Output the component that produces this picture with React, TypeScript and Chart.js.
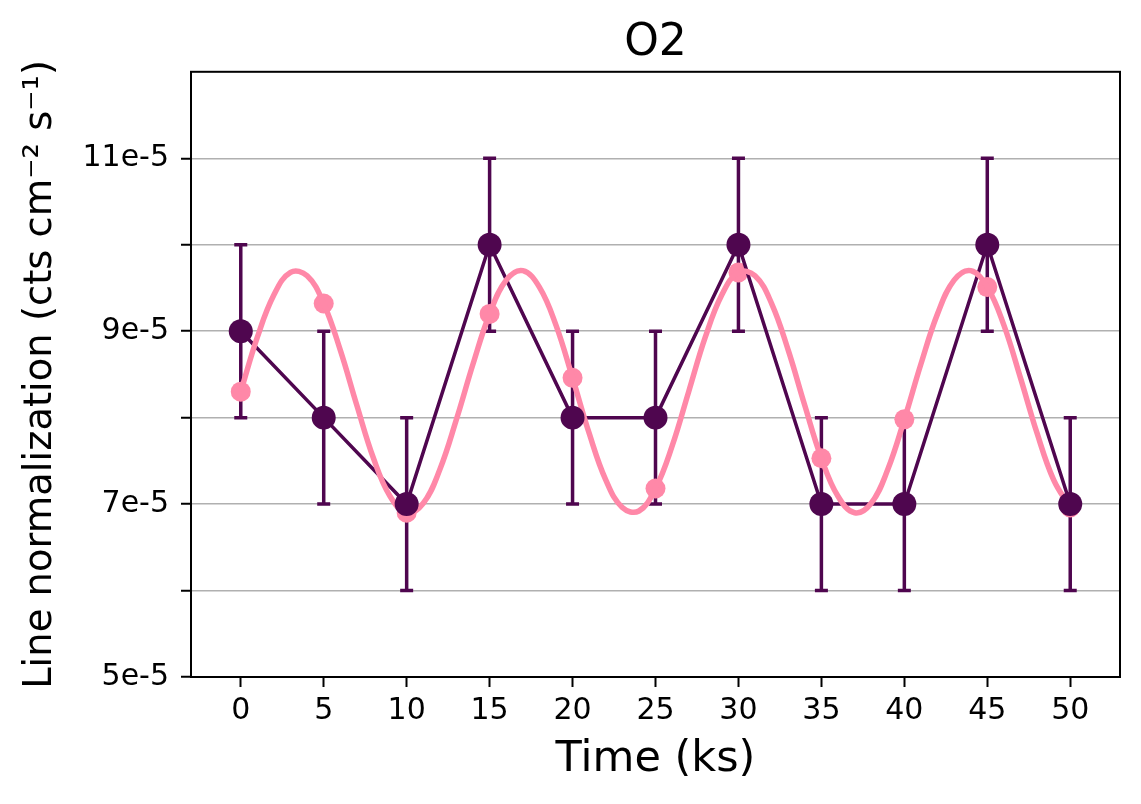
import { useEffect, useRef } from 'react';
import { Chart, registerables } from 'chart.js';

Chart.register(...registerables);

// observed line normalization (units of 1e-5)
const TIME = [0, 5, 10, 15, 20, 25, 30, 35, 40, 45, 50];
const OBSERVED = [9, 8, 7, 10, 8, 8, 10, 7, 7, 10, 7];
const OBSERVED_ERR = [1, 1, 1, 1, 1, 1, 1, 1, 1, 1, 1];

// model sampled at the observation times
const MODEL_AT_OBS = [8.3, 9.32, 6.9, 9.2, 8.46, 7.18, 9.68, 7.53, 7.98, 9.51, 6.96];

const CURVE_T = [
  0, 1, 2, 3, 4, 5, 6, 7, 8, 9, 10, 11, 12, 13, 14, 15, 16, 17, 18, 19, 20, 21, 22, 23, 24, 25,
  26, 27, 28, 29, 30, 31, 32, 33, 34, 35, 36, 37, 38, 39, 40, 41, 42, 43, 44, 45, 46, 47, 48, 49, 50,
];
const CURVE_Y = [
  8.3, 8.93, 9.42, 9.68, 9.64, 9.32, 8.78, 8.14, 7.53, 7.09, 6.9, 7.01, 7.4, 7.98, 8.62, 9.2, 9.59,
  9.7, 9.51, 9.07, 8.46, 7.82, 7.28, 6.96, 6.92, 7.18, 7.67, 8.3, 8.93, 9.42, 9.68, 9.64, 9.32, 8.78,
  8.14, 7.53, 7.09, 6.9, 7.01, 7.4, 7.98, 8.62, 9.2, 9.59, 9.7, 9.51, 9.07, 8.46, 7.82, 7.28, 6.96,
];

const X_TICKS = [0, 5, 10, 15, 20, 25, 30, 35, 40, 45, 50];
const Y_TICKS = [5, 6, 7, 8, 9, 10, 11];
const Y_TICK_LABELS = ['5e-5', '', '7e-5', '', '9e-5', '', '11e-5'];

const DARK = '#4f064f';
const PINK = '#ff88a8';

const pairs = (xs: number[], ys: number[]) => xs.map((x, i) => ({ x, y: ys[i] }));

// error bars + frame
const extrasPlugin = {
  id: 'extras',
  beforeDatasetsDraw(chart: Chart) {
    const { ctx, scales } = chart;
    const xs = scales.x;
    const ys = scales.y;
    ctx.save();
    ctx.strokeStyle = DARK;
    ctx.lineWidth = 3.5;
    TIME.forEach((t, i) => {
      const px = xs.getPixelForValue(t);
      const lo = ys.getPixelForValue(OBSERVED[i] - OBSERVED_ERR[i]);
      const hi = ys.getPixelForValue(OBSERVED[i] + OBSERVED_ERR[i]);
      ctx.beginPath();
      ctx.moveTo(px, lo);
      ctx.lineTo(px, hi);
      ctx.moveTo(px - 6.5, lo);
      ctx.lineTo(px + 6.5, lo);
      ctx.moveTo(px - 6.5, hi);
      ctx.lineTo(px + 6.5, hi);
      ctx.stroke();
    });
    ctx.restore();
  },
  afterDatasetsDraw(chart: Chart) {
    const { ctx, chartArea } = chart;
    ctx.save();
    ctx.strokeStyle = '#000';
    ctx.lineWidth = 2;
    ctx.strokeRect(chartArea.left, chartArea.top, chartArea.right - chartArea.left, chartArea.bottom - chartArea.top);
    ctx.restore();
  },
};

const App = () => {
  const canvasRef = useRef<HTMLCanvasElement>(null);
  const chartRef = useRef<Chart | null>(null);

  useEffect(() => {
    if (!canvasRef.current) return;
    if (chartRef.current) chartRef.current.destroy();

    Chart.defaults.font.family = "'DejaVu Sans', sans-serif";
    Chart.defaults.color = '#000';

    chartRef.current = new Chart(canvasRef.current, {
      type: 'scatter',
      data: {
        datasets: [
          {
            label: 'observed points',
            data: pairs(TIME, OBSERVED),
            showLine: false,
            pointRadius: 12,
            pointBorderWidth: 0,
            backgroundColor: DARK,
            borderColor: DARK,
            order: 0,
          },
          {
            label: 'model',
            data: pairs(CURVE_T, CURVE_Y),
            showLine: true,
            pointRadius: 0,
            borderColor: PINK,
            borderWidth: 5.5,
            tension: 0.4,
            order: 1,
          },
          {
            label: 'observed line',
            data: pairs(TIME, OBSERVED),
            showLine: true,
            pointRadius: 0,
            borderColor: DARK,
            borderWidth: 3.5,
            order: 2,
          },
          {
            label: 'model points',
            data: pairs(TIME, MODEL_AT_OBS),
            showLine: false,
            pointRadius: 10,
            pointBorderWidth: 0,
            backgroundColor: PINK,
            borderColor: PINK,
            order: 3,
          },
        ],
      },
      options: {
        responsive: true,
        maintainAspectRatio: false,
        animation: false,
        events: [],
        layout: { padding: { left: 0, right: 21, top: 17, bottom: 0 } },
        plugins: {
          legend: { display: false },
          tooltip: { enabled: false },
          title: {
            display: true,
            text: 'O2',
            fullSize: false,
            color: '#000',
            font: { size: 44, weight: 'normal', lineHeight: 1.2 },
            padding: { top: 0, bottom: 2 },
          },
        },
        scales: {
          x: {
            type: 'linear',
            min: -3,
            max: 53,
            afterBuildTicks: (scale: any) => {
              scale.ticks = X_TICKS.map((v) => ({ value: v }));
            },
            afterFit: (scale: any) => {
              scale.height = 127;
            },
            border: { display: false },
            grid: {
              drawOnChartArea: false,
              tickColor: '#000',
              tickWidth: 2,
              tickLength: 10,
            },
            ticks: {
              font: { size: 30 },
              color: '#000',
              padding: 6,
              maxRotation: 0,
              autoSkip: false,
            },
            title: {
              display: true,
              text: 'Time (ks)',
              color: '#000',
              font: { size: 43, lineHeight: 1.2 },
              padding: { top: 0, bottom: 18 },
            },
          },
          y: {
            type: 'linear',
            min: 5,
            max: 12,
            afterBuildTicks: (scale: any) => {
              scale.ticks = Y_TICKS.map((v) => ({ value: v }));
            },
            afterFit: (scale: any) => {
              scale.width = 191;
            },
            border: { display: false },
            grid: {
              color: (c: any) => (c.tick && c.tick.value === 5 ? 'rgba(0,0,0,0)' : '#b0b0b0'),
              lineWidth: 1.5,
              tickColor: '#000',
              tickWidth: 2,
              tickLength: 10,
            },
            ticks: {
              font: { size: 30 },
              color: '#000',
              padding: 12,
              autoSkip: false,
              callback: (_v: any, i: number) => Y_TICK_LABELS[i],
            },
            title: {
              display: true,
              text: 'Line normalization (cts cm\u207B\u00B2 s\u207B\u00B9)',
              color: '#000',
              font: { size: 38.5, lineHeight: 1.2 },
              padding: { top: 18, bottom: 0 },
            },
          },
        },
      },
      plugins: [extrasPlugin],
    });

    return () => {
      if (chartRef.current) {
        chartRef.current.destroy();
        chartRef.current = null;
      }
    };
  }, []);

  return (
    <div style={{ position: 'fixed', left: 0, top: 0, width: 1141, height: 804, background: '#fff' }}>
      <canvas ref={canvasRef} />
    </div>
  );
};

export default App;
